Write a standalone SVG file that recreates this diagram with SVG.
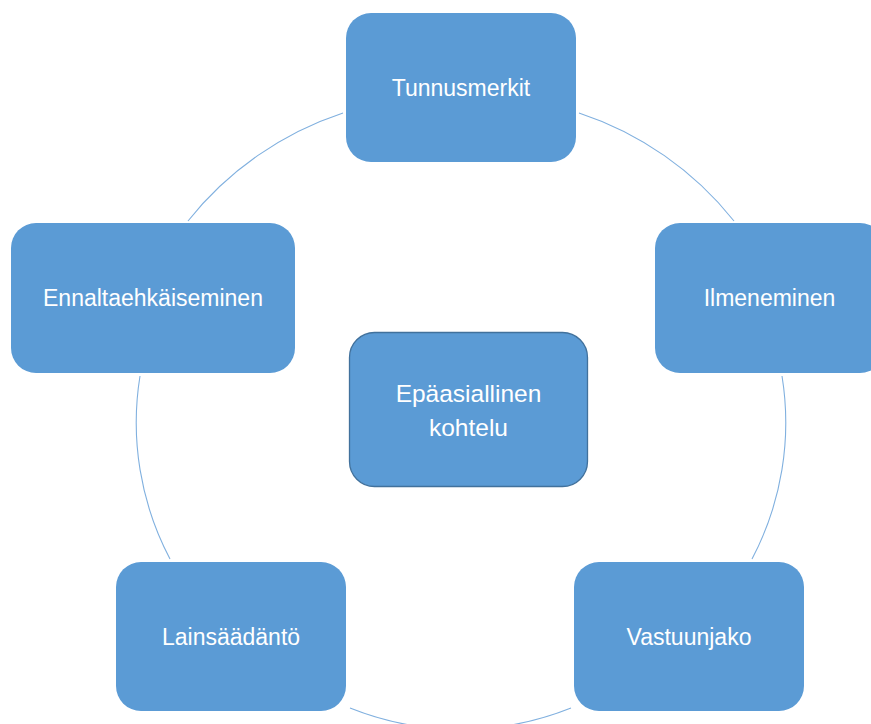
<svg xmlns="http://www.w3.org/2000/svg" width="871" height="724" viewBox="0 0 871 724">
<style>
.node{fill:#5B9BD5;}
.center{fill:#5B9BD5;stroke:#41719C;stroke-width:1.3;}
.lbl{font-family:"Liberation Sans",Arial,sans-serif;font-size:23px;fill:#FFFFFF;text-anchor:middle;}
.clbl{font-family:"Liberation Sans",Arial,sans-serif;font-size:24.5px;fill:#FFFFFF;text-anchor:middle;}
.arc{fill:none;stroke:#80B0DF;stroke-width:1.1;}
</style>
<rect width="871" height="724" fill="#FFFFFF"/>
<g id="connectors">
<path class="arc" d="M188,221 A330,330 0 0,1 343,113"/>
<path class="arc" d="M579,113 A330,330 0 0,1 734,221"/>
<path class="arc" d="M140,376 A292,292 0 0,0 170,559"/>
<path class="arc" d="M782,376 A292,292 0 0,1 752,559"/>
<path class="arc" d="M350,708 A297,297 0 0,0 571,708"/>
</g>
<g id="node-center">
<rect class="center" x="349.5" y="332.5" width="238" height="154" rx="25" ry="25"/>
<text class="clbl" x="468.5" y="402">Epäasiallinen</text>
<text class="clbl" x="468.5" y="435.5">kohtelu</text>
</g>
<g id="node-tunnusmerkit">
<rect class="node" x="346" y="13" width="230" height="149" rx="25" ry="25"/>
<text class="lbl" x="461" y="96">Tunnusmerkit</text>
</g>
<g id="node-ilmeneminen">
<rect class="node" x="655" y="223" width="230" height="150" rx="25" ry="25"/>
<text class="lbl" x="769.5" y="306">Ilmeneminen</text>
</g>
<g id="node-vastuunjako">
<rect class="node" x="574" y="562" width="230" height="149" rx="25" ry="25"/>
<text class="lbl" x="689" y="645">Vastuunjako</text>
</g>
<g id="node-lainsaadanto">
<rect class="node" x="116" y="562" width="230" height="149" rx="25" ry="25"/>
<text class="lbl" x="231" y="645">Lainsäädäntö</text>
</g>
<g id="node-ennaltaehkaiseminen">
<rect class="node" x="11" y="223" width="284" height="150" rx="25" ry="25"/>
<text class="lbl" x="153" y="306">Ennaltaehkäiseminen</text>
</g>
</svg>
